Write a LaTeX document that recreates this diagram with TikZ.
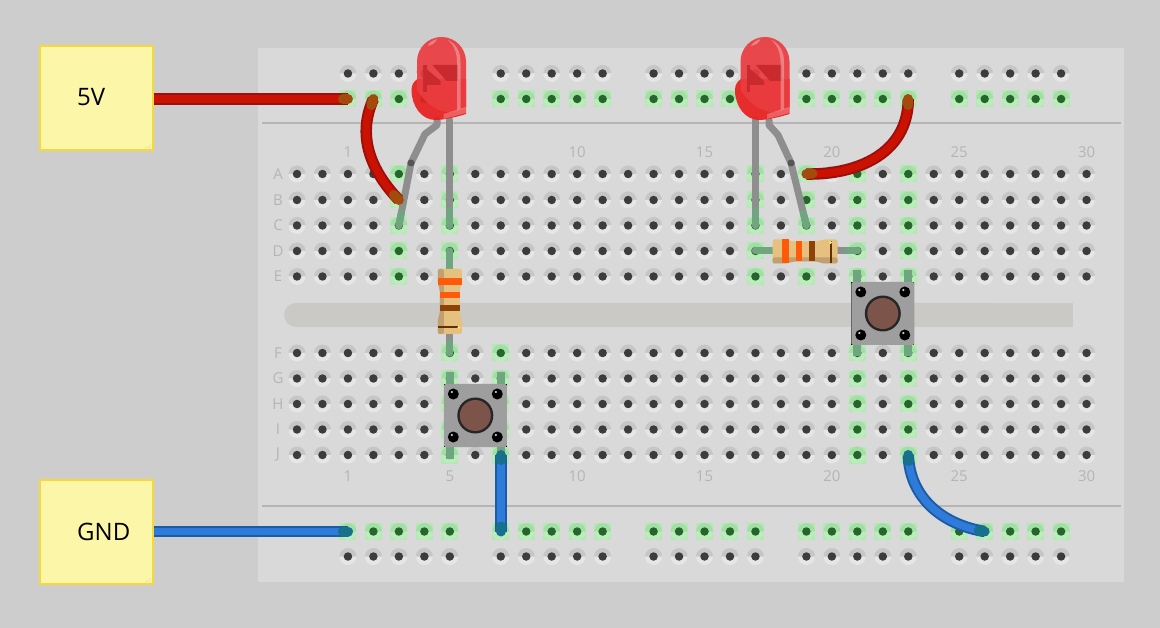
\documentclass[tikz,border=0pt]{standalone}
\usepackage{fontspec}
\setmainfont{Open Sans}
\usetikzlibrary{calc,positioning}
\definecolor{bgGrey}{HTML}{CDCDCD}
\definecolor{boardGrey}{HTML}{D9D9D9}
\definecolor{railGrey}{HTML}{B5B5B5}
\definecolor{slotGrey}{HTML}{CBC9C6}
\definecolor{haloDark}{HTML}{C6C6C6}
\definecolor{haloLight}{HTML}{E6E6E6}
\definecolor{holeDark}{HTML}{3C3C3C}
\definecolor{padGreen}{HTML}{B4E8B4}
\definecolor{padDark}{HTML}{A2DFA4}
\definecolor{padLight}{HTML}{BCECBC}
\definecolor{holeGreen}{HTML}{25662B}
\definecolor{tintGreen}{HTML}{6FA67F}
\definecolor{legGrey}{HTML}{8E8E8E}
\definecolor{dotGrey}{HTML}{555555}
\definecolor{noteFill}{HTML}{FCF6A8}
\definecolor{noteLine}{HTML}{F5D83A}
\definecolor{redOuter}{HTML}{9C0F0F}
\definecolor{redInner}{HTML}{CB1200}
\definecolor{redTip}{HTML}{A34B0C}
\definecolor{blueOuter}{HTML}{1A5CA6}
\definecolor{blueInner}{HTML}{2F7BD9}
\definecolor{blueTip}{HTML}{17708C}
\definecolor{ledRed}{HTML}{EA3C40}
\definecolor{ledDark}{HTML}{C92A2E}
\definecolor{ledRim}{HTML}{E81E1E}
\definecolor{bodyTan}{HTML}{E5C07E}
\definecolor{bodyShade}{HTML}{BFA06E}
\definecolor{bandOrange}{HTML}{FF5A0A}
\definecolor{bandBrown}{HTML}{8C4208}
\definecolor{capBrown}{HTML}{7D5449}
\tikzset{
note/.style={
  rectangle,
  draw=noteLine,
  fill=noteFill,
  line width=2pt,
  minimum width=113pt,
  minimum height=104pt,
  inner sep=0pt},
notetext/.style={font=\fontsize{24}{24}\selectfont, inner sep=0pt, anchor=west},
rowlabel/.style={font=\fontsize{15}{15}\selectfont, text=railGrey, inner sep=0pt},
hole/.style={circle, fill=holeDark, minimum size=8.5pt, inner sep=0pt},
greenhole/.style={circle, fill=holeGreen, minimum size=8.5pt, inner sep=0pt},
redwire/.style={draw=redInner, line width=7.5pt, line cap=round,
  preaction={draw=redOuter, line width=11.5pt}},
bluewire/.style={draw=blueInner, line width=7.5pt, line cap=round,
  preaction={draw=blueOuter, line width=11.5pt}},
redtip/.style={draw=redTip, line width=10pt, line cap=round},
bluetip/.style={draw=blueTip, line width=10pt, line cap=round},
leg/.style={draw=legGrey, line width=7pt, line cap=round, line join=round},
legtip/.style={draw=tintGreen, line width=7pt, line cap=round},
leddot/.style={circle, fill=dotGrey, minimum size=7pt, inner sep=0pt},
resistor/.pic={
  \fill[bodyTan, rounded corners=2pt] (-12,-32.5) -- (12,-32.5) -- (12,-18) -- (10,-12) -- (10,12) -- (12,18) -- (12,32.5)
    -- (-12,32.5) -- (-12,18) -- (-10,12) -- (-10,-12) -- (-12,-18) -- cycle;
  \fill[bodyShade, rounded corners=2pt] (-12,-32.5) -- (-6,-32.5) -- (-6,32.5) -- (-12,32.5) -- (-12,18) -- (-10,12)
    -- (-10,-12) -- (-12,-18) -- cycle;
  \fill[bandOrange] (-12,-23) rectangle (12,-16);
  \fill[bandOrange] (-10,-9.5) rectangle (10,-3.5);
  \fill[bandBrown] (-10,3.5) rectangle (10,9.5);
  \fill[bandBrown!70!black] (-12,25) rectangle (10,26.5);
  \fill[yellow!60!white] (9,25.7) circle (1.5);
},
pushbutton/.pic={
  \fill[tintGreen] (-29.5,-43) rectangle (-21.5,-31);
  \fill[tintGreen] (21.5,-43) rectangle (29.5,-31);
  \fill[tintGreen] (-29.5,31) rectangle (-21.5,43);
  \fill[tintGreen] (21.5,31) rectangle (29.5,43);
  \fill[black] (-31.5,-31.5) rectangle (31.5,31.5);
  \fill[black!38] (-31.5,-30) -- (-30,-31.5) -- (30,-31.5) -- (31.5,-30) -- (31.5,30) -- (30,31.5)
    -- (-30,31.5) -- (-31.5,30) -- cycle;
  \foreach \bx in {-22,22}
    \foreach \by in {-21.5,21.5} {
      \fill[black] (\bx,\by) circle (5.5);
      \fill[white!80!black] (\bx-1.5,\by-2) circle (1.2);
    }
  \fill[black!85] (0,0) circle (18);
  \fill[capBrown] (0,0) circle (15.5);
},
ledlamp/.pic={
  \begin{scope}[opacity=.92]
    \fill[ledRim] (-30,8) .. controls (-30,2) and (-27,-1) .. (-24,-3) -- (24.5,-3) -- (24.5,32)
      .. controls (12,36) and (0,38) .. (-6,38) .. controls (-20,38) and (-30,24) .. (-30,8) -- cycle;
    \fill[ledRed] (-24.5,-20.5) .. controls (-24.5,-34) and (-13.5,-45) .. (0,-45) .. controls (13.5,-45) and (24.5,-34) .. (24.5,-20.5)
      -- (24.5,26) .. controls (10,33) and (-8,33) .. (-24.5,8) -- cycle;
  \end{scope}
  \fill[ledDark] (-18.5,-17) rectangle (-15,10);
  \fill[ledDark] (-15,-13) -- (-1,-1) -- (-1,3) -- (-15,3) -- cycle;
  \fill[ledDark] (-9,-17) -- (16.5,-17) -- (16.5,-1) -- (5,-1) -- cycle;
  \fill[white, opacity=.3] (6.5,-42) .. controls (15,-38) and (19,-30) .. (19,-20) -- (19,27) -- (15.5,28) -- (15.5,-20)
    .. controls (15.5,-30) and (12,-37) .. (6.5,-42) -- cycle;
  \fill[white, opacity=.3] (-14,-36) .. controls (-12,-40) and (-8,-42) .. (-4.5,-43) .. controls (-6,-39) and (-9,-37) .. (-14,-36) -- cycle;
  \fill[white, opacity=.25] (24.5,25) -- (24.5,31) -- (2,37) -- (2,32) -- cycle;
},
}
\newcommand{\pad}[2]{%
  \fill[padGreen] (#1-8.5,#2-8.5) rectangle (#1+8.5,#2+8.5);
  \fill[padDark] (#1-8.5,#2) arc[start angle=180, end angle=360, radius=8.5] -- cycle;
  \fill[padLight] (#1-8.5,#2) arc[start angle=180, end angle=0, radius=8.5] -- cycle;
}
\newcommand{\halo}[2]{%
  \fill[haloDark] (#1-8.5,#2) arc[start angle=180, end angle=360, radius=8.5] -- cycle;
  \fill[haloLight] (#1-8.5,#2) arc[start angle=180, end angle=0, radius=8.5] -- cycle;
}
\begin{document}
\begin{tikzpicture}[x=1pt,y=-1pt]
    \useasboundingbox (0,0) rectangle (1160,628);
    \fill[bgGrey] (0,0) rectangle (1160,628);
    \fill[boardGrey] (258,48) rectangle (1124,582);
    \fill[railGrey] (262,122.3) rectangle (1121,123.8);
    \fill[railGrey] (262,505.3) rectangle (1121,506.8);
    \fill[slotGrey, rounded corners=12pt] (284,303) rectangle (1000,327);
    \fill[slotGrey] (900,303) rectangle (1073,327);
    % main field
    \foreach \rowname/\rowy in {A/174,B/200,C/225.5,D/251,E/276.5,F/353,G/378.5,H/404,I/429.5,J/455} {
      \node[rowlabel] (lab\rowname) at (278,\rowy) {\rowname};
      \foreach \k in {0,...,31} {
        \pgfmathsetmacro{\hx}{297+25.47*\k}
        \halo{\hx}{\rowy}
        \node[hole] (h\rowname-\k) at (\hx,\rowy) {};
      }
    }
    \foreach \k in {4,6,18,20,22,24}
      \foreach \rowname/\rowy in {A/174,B/200,C/225.5,D/251,E/276.5} {
        \pgfmathsetmacro{\hx}{297+25.47*\k}
        \pad{\hx}{\rowy}
        \node[greenhole] (h\rowname-\k) at (\hx,\rowy) {};
      }
    \foreach \k in {6,8,22,24}
      \foreach \rowname/\rowy in {F/353,G/378.5,H/404,I/429.5,J/455} {
        \pgfmathsetmacro{\hx}{297+25.47*\k}
        \pad{\hx}{\rowy}
        \node[greenhole] (h\rowname-\k) at (\hx,\rowy) {};
      }
    % power rails
    \foreach \k in {2,...,6,8,9,...,12,14,15,...,18,20,21,...,24,26,27,...,30} {
      \pgfmathsetmacro{\hx}{297+25.47*\k}
      \halo{\hx}{73.5}
      \node[hole] (tA-\k) at (\hx,73.5) {};
      \pad{\hx}{99}
      \node[greenhole] (tB-\k) at (\hx,99) {};
      \pad{\hx}{531.5}
      \node[greenhole] (bA-\k) at (\hx,531.5) {};
      \halo{\hx}{556.5}
      \node[hole] (bB-\k) at (\hx,556.5) {};
    }
    \foreach \num/\k in {1/2,5/6,10/11,15/16,20/21,25/26,30/31} {
      \pgfmathsetmacro{\hx}{297+25.47*\k}
      \node[rowlabel] (numT\num) at (\hx,152) {\num};
      \node[rowlabel] (numB\num) at (\hx,476) {\num};
    }
    % led legs
    \coordinate (ledA-a) at (437,120);
    \coordinate (ledA-b) at (437,125);
    \coordinate (ledA-c) at (425,134);
    \node[leddot] (ledA-dot) at (411,163) {};
    \coordinate (ledB-a) at (769,120);
    \coordinate (ledB-b) at (769,125);
    \coordinate (ledB-c) at (778,135);
    \node[leddot] (ledB-dot) at (791,163) {};
    \draw[leg] (ledA-a) -- (ledA-b) -- (ledA-c) -- (ledA-dot.center) -- (hC-4.center);
    \draw[leg] (hC-6.center |- ledA-a) -- (hC-6.center);
    \draw[leg] (ledB-a) -- (ledB-b) -- (ledB-c) -- (ledB-dot.center) -- (hC-20.center);
    \draw[leg] (hC-18.center |- ledB-a) -- (hC-18.center);
    \node[leddot] at (ledA-dot) {};
    \node[leddot] at (ledB-dot) {};
    \draw[legtip] ($(hC-4.center)!0.2!(ledA-dot.center)$) -- (hC-4.center);
    \draw[legtip] ($(hC-6.center)+(0,-15)$) -- (hC-6.center);
    \draw[legtip] ($(hC-20.center)!0.2!(ledB-dot.center)$) -- (hC-20.center);
    \draw[legtip] ($(hC-18.center)+(0,-15)$) -- (hC-18.center);
    % resistors
    \draw[leg] (hD-6.center) -- (hF-6.center);
    \draw[leg] (hD-18.center) -- (hD-22.center);
    \draw[legtip] (hD-6.center) -- ($(hD-6.center)+(0,18)$);
    \draw[legtip] (hF-6.center) -- ($(hF-6.center)+(0,-10)$);
    \draw[legtip] (hD-18.center) -- ($(hD-18.center)+(18,0)$);
    \draw[legtip] (hD-22.center) -- ($(hD-22.center)+(-10,0)$);
    \pic at (449.8,301.5) {resistor};
    \pic[rotate=90] at (805,251.5) {resistor};
    % buttons
    \pic at (475.3,415.5) {pushbutton};
    \pic at (882.8,313.5) {pushbutton};
    % leds
    \pic at (441.5,82) {ledlamp};
    \pic at (765,82) {ledlamp};
    % supply boxes
    \node[note] (note5v) at (96.5,98) {};
    \node[note] (notegnd) at (96.5,532) {};
    \node[notetext] (text5v) at (77,97) {5V};
    \node[notetext] (textgnd) at (77,532) {GND};
    \foreach \gx/\gy in {150/145,148/147,150/147,146/147.5,150/149}
      \fill[black!35] (\gx,\gy) circle (.4);
    \foreach \gx/\gy in {150/579,148/581,150/581,146/581.5,150/583}
      \fill[black!35] (\gx,\gy) circle (.4);
    % wires
    \draw[redwire, line cap=butt] (note5v.east |- tB-2.center) -- (tB-2.center);
    \draw[redtip] ($(tB-2.center)+(-5,0)$) -- (tB-2.center);
    \draw[redwire] (tB-3.center) .. controls (355,140) and (375,175) .. (hB-4.center);
    \draw[redtip] ($(tB-3.center)+(-2,6)$) -- (tB-3.center);
    \draw[redtip] ($(hB-4.center)+(-5,-5)$) -- (hB-4.center);
    \draw[redwire] (tB-24.center) .. controls (908,155) and (855,175) .. (hA-20.center);
    \draw[redtip] ($(tB-24.center)+(0,6)$) -- (tB-24.center);
    \draw[redtip] ($(hA-20.center)+(6,-.5)$) -- (hA-20.center);
    \draw[bluewire, line cap=butt] (notegnd.east |- bA-2.center) -- (bA-2.center);
    \draw[bluetip] ($(bA-2.center)+(-5,0)$) -- (bA-2.center);
    \draw[bluewire] (hJ-8.center) -- (bA-8.center);
    \draw[bluetip] (hJ-8.center) -- ($(hJ-8.center)+(0,5)$);
    \draw[bluetip] (bA-8.center) -- ($(bA-8.center)+(0,-5)$);
    \draw[bluewire] (hJ-24.center) .. controls (910,500) and (945,525) .. (bA-27.center);
    \draw[bluetip] (hJ-24.center) -- ($(hJ-24.center)+(.5,6)$);
    \draw[bluetip] (bA-27.center) -- ($(bA-27.center)+(-6,-1)$);
\end{tikzpicture}
\end{document}
